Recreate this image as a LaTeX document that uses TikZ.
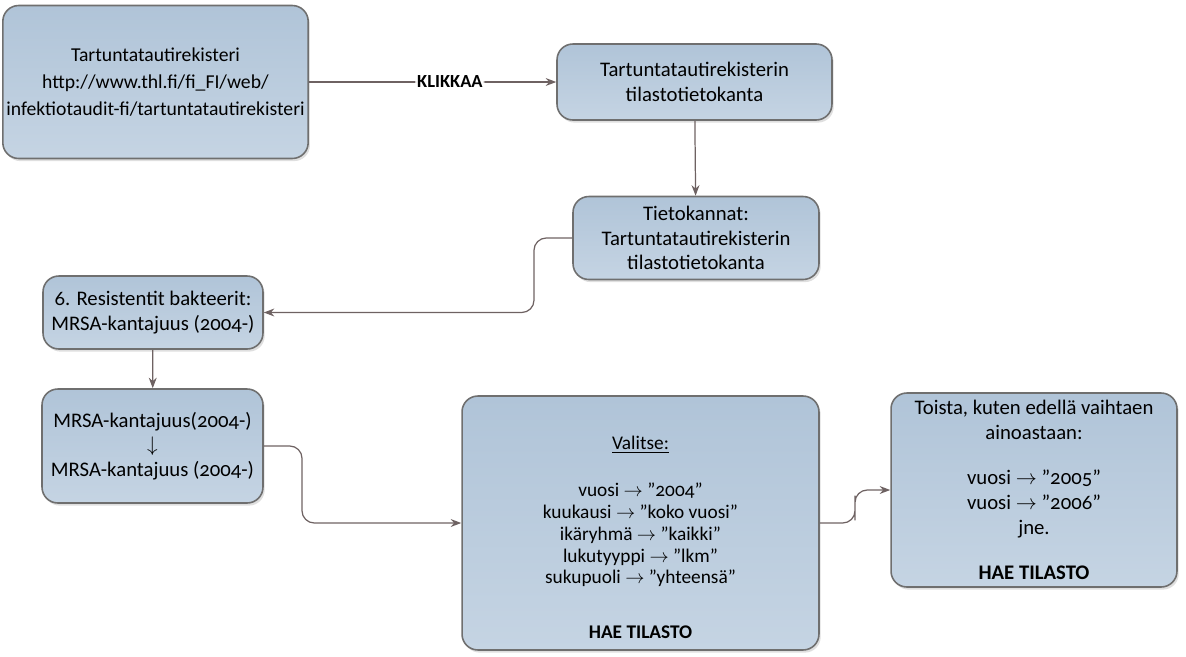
\documentclass[tikz,border=0pt]{standalone}
\usepackage{fontspec}
\setmainfont[Numbers=OldStyle]{Carlito}
\usetikzlibrary{arrows.meta,shadows}

\definecolor{boxfill}{HTML}{B0C4D8}
\definecolor{boxlight}{HTML}{C5D4E3}
\definecolor{boxline}{HTML}{6F6F6F}
\definecolor{linkline}{HTML}{6E6262}

\tikzset{
  lohko/.style={draw=boxline, line width=0.9pt, rounded corners=9pt,
    top color=boxfill, bottom color=boxlight, align=center,
    drop shadow={shadow xshift=1pt, shadow yshift=-1.5pt, opacity=0.25},
    font=\fontsize{11.8}{14}\selectfont, inner sep=2pt},
  linkki/.style={draw=linkline, line width=0.7pt, rounded corners=7pt,
    -{Stealth[length=6pt,width=4.5pt]}}
}

\begin{document}
\begin{tikzpicture}[x=0.02cm,y=-0.02cm]
    \useasboundingbox (0,0) rectangle (1186,656);

    % Rekisteri ja tietokanta
    \node[lohko, minimum width=5.9cm, minimum height=3.06cm,
          font=\fontsize{11.2}{15.5}\selectfont] (rek) at (155.5,82)
      {Tartuntatautirekisteri\\http://www.thl.fi/fi\_FI/web/\\infektiotaudit-fi/tartuntatautirekisteri};
    \node[lohko, minimum width=5.5cm, minimum height=1.52cm] (tk) at (694.5,82)
      {Tartuntatautirekisterin\\tilastotietokanta};
    \node[lohko, minimum width=4.92cm, minimum height=1.66cm] (tkan) at (696,238)
      {Tietokannat:\\Tartuntatautirekisterin\\tilastotietokanta};

    % Resistentit bakteerit
    \node[lohko, minimum width=4.4cm, minimum height=1.46cm] (res) at (153,312.5)
      {6. Resistentit bakteerit:\\MRSA-kantajuus (2004-)};
    \node[lohko, minimum width=4.42cm, minimum height=2.28cm] (mrsa) at (152.5,446)
      {MRSA-kantajuus(2004-)\\$\downarrow$\\MRSA-kantajuus (2004-)};

    % Valinnat
    \node[lohko, minimum width=7.14cm, minimum height=5.08cm,
          font=\fontsize{11}{12.5}\selectfont] (val) at (640.5,523)
      {\rule{0pt}{24pt}\underline{Valitse:}\\[14pt]
       vuosi $\to$ ''2004''\\
       kuukausi $\to$ ''koko vuosi''\\
       ikäryhmä $\to$ ''kaikki''\\
       lukutyyppi $\to$ ''lkm''\\
       sukupuoli $\to$ ''yhteensä''\\[18.5pt]
       \textbf{HAE TILASTO}};
    \node[lohko, minimum width=5.72cm, minimum height=3.88cm] (toista) at (1034,490)
      {Toista, kuten edellä vaihtaen\\ainoastaan:\\[12pt]
       vuosi $\to$ ''2005''\\
       vuosi $\to$ ''2006''\\
       jne.\\[12pt]
       \textbf{HAE TILASTO}};

    % Yhteydet
    \draw[linkki] (rek) -- node[pos=0.57, fill=white, inner sep=1pt,
        font=\fontsize{10.5}{12}\selectfont\bfseries] {KLIKKAA} (tk);
    \draw[linkki] (tk) -- (tkan);
    \draw[linkki] (tkan.west) -| (534,275) |- (res.east);
    \draw[linkki] (res) -- (mrsa);
    \draw[linkki] (mrsa.east) -| (302,480) |- (val.west);
    \draw[linkki] (val.east) -| (855,508) |- (toista.west);
\end{tikzpicture}
\end{document}
